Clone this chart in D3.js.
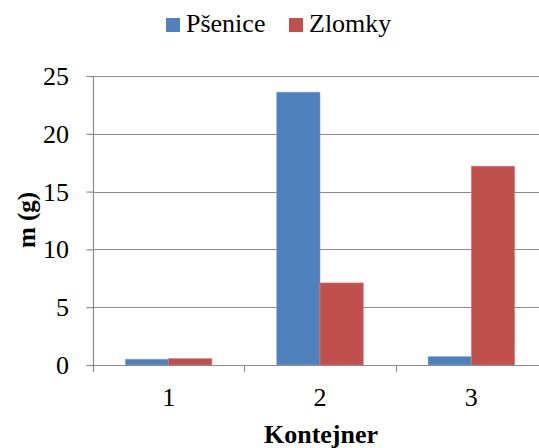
<!DOCTYPE html>
<html>
<head>
<meta charset="utf-8">
<script src="https://cdn.jsdelivr.net/npm/d3@7"></script>
<style>
  html, body { margin: 0; padding: 0; background: #fff; overflow: hidden; }
</style>
</head>
<body>
<svg id="chart" width="539" height="448"></svg>
<script>
// Mass of grain per container
const containers = ["1", "2", "3"];
const seriesNames = ["Pšenice", "Zlomky"];
const psenice = [0.5, 23.6, 0.72];
const zlomky = [0.55, 7.1, 17.2];
const yTicks = [0, 5, 10, 15, 20, 25];
const colors = ["#4F81BD", "#C0504D"];
const strokes = ["#7EA3D3", "#D67C7A"];
const serif = '"Liberation Serif"';

const svg = d3.select("#chart");
const plotLeft = 93, plotRight = 547, plotTop = 76, plotBottom = 365;

const x0 = d3.scaleBand().domain(containers).range([plotLeft, plotRight]).paddingInner(0).paddingOuter(0);
const bandW = x0.bandwidth();
const barW = bandW / (2 + 0.75 * 2); // gap width 75% of a bar
const x1 = d3.scaleBand().domain(seriesNames).range([0, 2 * barW]);
const y = d3.scaleLinear().domain([0, 25]).range([plotBottom, plotTop]);

const grid = "#8C8C8C";

// horizontal gridlines
svg.append("g").selectAll("line").data(yTicks.filter(d => d > 0)).join("line")
  .attr("x1", plotLeft).attr("x2", plotRight)
  .attr("y1", d => Math.round(y(d)) + 0.5).attr("y2", d => Math.round(y(d)) + 0.5)
  .attr("stroke", grid).attr("stroke-width", 1.2);

// y axis: ticks and gridline stubs, labels drawn as plain text below
const yAxis = svg.append("g").attr("transform", `translate(${plotLeft + 0.5},0)`)
  .call(d3.axisLeft(y).tickValues(yTicks).tickSize(7).tickFormat(""));
yAxis.select(".domain").attr("stroke", grid).attr("stroke-width", 1.2)
  .attr("d", `M-7,${plotTop + 0.5}H0V${plotBottom + 7}`);
yAxis.selectAll(".tick line").attr("stroke", grid).attr("stroke-width", 1.2);
svg.append("g").selectAll("text").data(yTicks).join("text")
  .attr("x", plotLeft - 24).attr("y", d => y(d) + 9)
  .attr("text-anchor", "end")
  .style("font-family", serif).attr("font-size", 26).attr("fill", "#000")
  .text(d => d3.format("d")(d));

// bars
const groups = svg.append("g").selectAll("g").data(containers).join("g")
  .attr("transform", d => `translate(${x0(d) + (bandW - 2 * barW) / 2},0)`);
groups.selectAll("rect").data((d, i) => [psenice[i], zlomky[i]].map((v, j) => ({ v, j })))
  .join("rect")
  .attr("x", d => x1(seriesNames[d.j]))
  .attr("width", x1.bandwidth())
  .attr("y", d => y(d.v))
  .attr("height", d => y(0) - y(d.v))
  .attr("fill", d => colors[d.j])
  .attr("stroke", d => strokes[d.j]).attr("stroke-width", 0.6);

// x axis
const xAxis = svg.append("g").attr("transform", `translate(0,${plotBottom + 0.5})`)
  .call(d3.axisBottom(x0).tickSize(0).tickFormat(""));
xAxis.select(".domain").attr("stroke", grid).attr("stroke-width", 1.2).attr("d", `M${plotLeft},0H${plotRight}`);
svg.append("g").selectAll("text").data(containers).join("text")
  .attr("x", d => x0(d) + bandW / 2).attr("y", 406)
  .attr("text-anchor", "middle")
  .style("font-family", serif).attr("font-size", 26).attr("fill", "#000")
  .text(d => d);
svg.append("g").selectAll("line").data(containers.slice(1)).join("line")
  .attr("x1", d => Math.round(x0(d)) + 0.5).attr("x2", d => Math.round(x0(d)) + 0.5)
  .attr("y1", plotBottom).attr("y2", plotBottom + 7)
  .attr("stroke", grid).attr("stroke-width", 1.2);

// axis titles
svg.append("text").attr("x", 321).attr("y", 443).attr("text-anchor", "middle")
  .style("font-family", serif).attr("font-size", 26).attr("font-weight", "bold").attr("fill", "#000")
  .text("Kontejner");
svg.append("text").attr("transform", "translate(35,220) rotate(-90)").attr("text-anchor", "middle")
  .style("font-family", serif).attr("font-size", 25).attr("font-weight", "bold").attr("fill", "#000")
  .text("m (g)");

// legend
const legendX = [166, 289];
const lg = svg.append("g").selectAll("g").data(seriesNames).join("g")
  .attr("transform", (d, i) => `translate(${legendX[i]},0)`);
lg.append("rect").attr("x", 0).attr("y", 18).attr("width", 14).attr("height", 14)
  .attr("fill", (d, i) => colors[i]);
lg.append("text").attr("x", 20).attr("y", 32).style("font-family", serif).attr("font-size", 26)
  .attr("fill", "#000").text(d => d);
</script>
</body>
</html>
